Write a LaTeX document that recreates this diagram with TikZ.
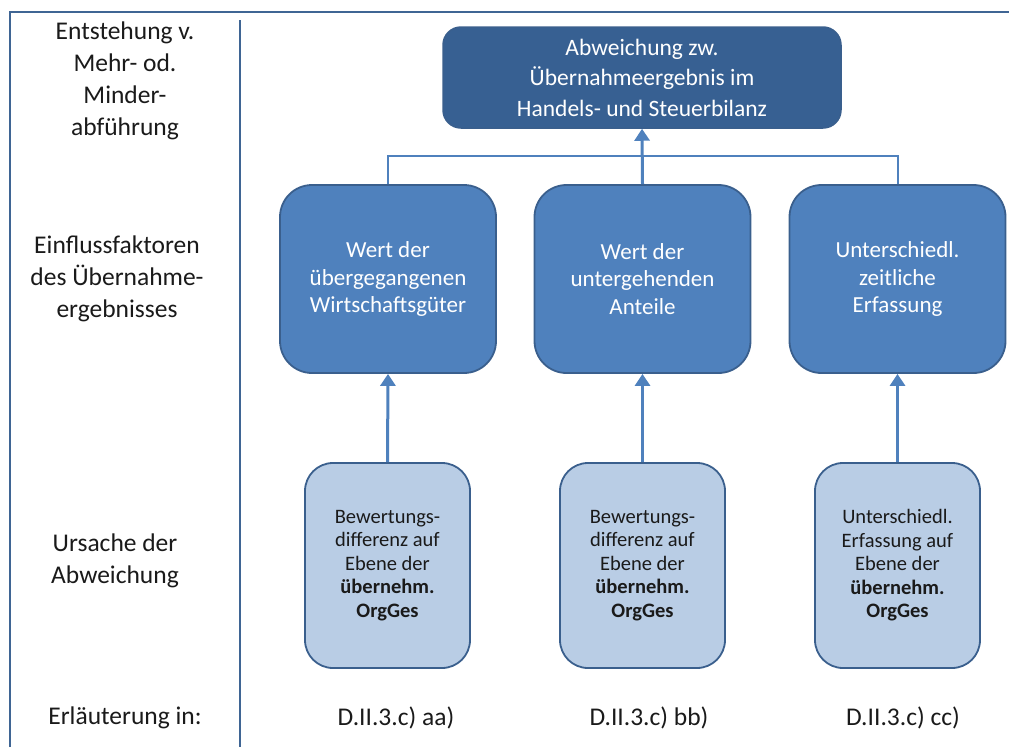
\documentclass[tikz,border=0pt]{standalone}
\usepackage{fontspec}
\setmainfont{Carlito}
\usetikzlibrary{arrows.meta}
\definecolor{topfill}{HTML}{376092}
\definecolor{midfill}{HTML}{4F81BD}
\definecolor{lowfill}{HTML}{B9CDE5}
\definecolor{edge}{HTML}{3A5F8D}
\definecolor{frame}{HTML}{3F6594}
\definecolor{txt}{HTML}{1A1A1A}
\tikzset{
  topbox/.style={draw=edge, line width=1.5pt, fill=topfill, rounded corners=18pt, minimum width=398pt, minimum height=101pt, inner sep=0pt, align=center, text=white, font=\fontsize{23.5}{30.5}\selectfont},
  midbox/.style={draw=edge, line width=1.8pt, fill=midfill, rounded corners=32pt, minimum width=216pt, minimum height=188pt, inner sep=0pt, align=center, text=white, font=\fontsize{23}{27.5}\selectfont},
  lowbox/.style={draw=edge, line width=1.8pt, fill=lowfill, rounded corners=28pt, minimum width=165pt, minimum height=205pt, inner sep=0pt, align=center, text=txt, font=\fontsize{20.5}{23.5}\selectfont},
  lbl/.style={align=center, text=txt, inner sep=0pt, font=\fontsize{25.5}{32}\selectfont},
  conn/.style={draw=midfill, line width=2pt},
  arr/.style={draw=midfill, line width=3pt, -{Triangle[length=12pt,width=15pt]}}
}
\begin{document}
\begin{tikzpicture}[x=1pt,y=-1pt]
\useasboundingbox (0,0) rectangle (1009,747);
% frame
\coordinate (fbl) at (10,747);
\coordinate (ftl) at (10,12);
\coordinate (ftr) at (1009,12);
\coordinate (dt) at (240,20);
\coordinate (db) at (240,747);
\draw[frame, line width=2pt] (fbl) -- (ftl) -- (ftr);
\draw[frame, line width=2pt] (dt) -- (db);
% left labels
\node[lbl] (l1) at (125,81) {Entstehung v.\\Mehr- od.\\Minder-\\abführung};
\node[lbl] (l2) at (117,279) {Einflussfaktoren\\des Übernahme-\\ergebnisses};
\node[lbl] (l3) at (115,561) {Ursache der\\Abweichung};
\node[lbl] (l4) at (125,718) {Erläuterung in:};
% boxes
\node[topbox] (top) at (642,77.5) {Abweichung zw.\\Übernahmeergebnis im\\Handels- und Steuerbilanz};
\node[midbox] (m1) at (388,279) {Wert der\\übergegangenen\\Wirtschaftsgüter};
\node[midbox] (m2) at (642.5,279) {Wert der\\untergehenden\\Anteile};
\node[midbox] (m3) at (897.5,279) {Unterschiedl.\\zeitliche\\Erfassung};
\node[lowbox] (b1) at (387.5,565.5) {Bewertungs-\\differenz auf\\Ebene der\\\textbf{übernehm.}\\\textbf{OrgGes}};
\node[lowbox] (b2) at (642.5,565.5) {Bewertungs-\\differenz auf\\Ebene der\\\textbf{übernehm.}\\\textbf{OrgGes}};
\node[lowbox] (b3) at (897.5,565.5) {Unterschiedl.\\Erfassung auf\\Ebene der\\\textbf{übernehm.}\\\textbf{OrgGes}};
% references
\node[lbl] (r1) at (396,718) {D.II.3.c) aa)};
\node[lbl] (r2) at (649,718) {D.II.3.c) bb)};
\node[lbl] (r3) at (903,718) {D.II.3.c) cc)};
% connectors
\coordinate (j) at (642,156);
\draw[conn] (m1.north) |- (j) -| (m3.north);
\draw[arr] (m2.north) -- (top.south);
\draw[arr] (b1.north) -- (m1.south);
\draw[arr] (b2.north) -- (m2.south);
\draw[arr] (b3.north) -- (m3.south);
\end{tikzpicture}
\end{document}
